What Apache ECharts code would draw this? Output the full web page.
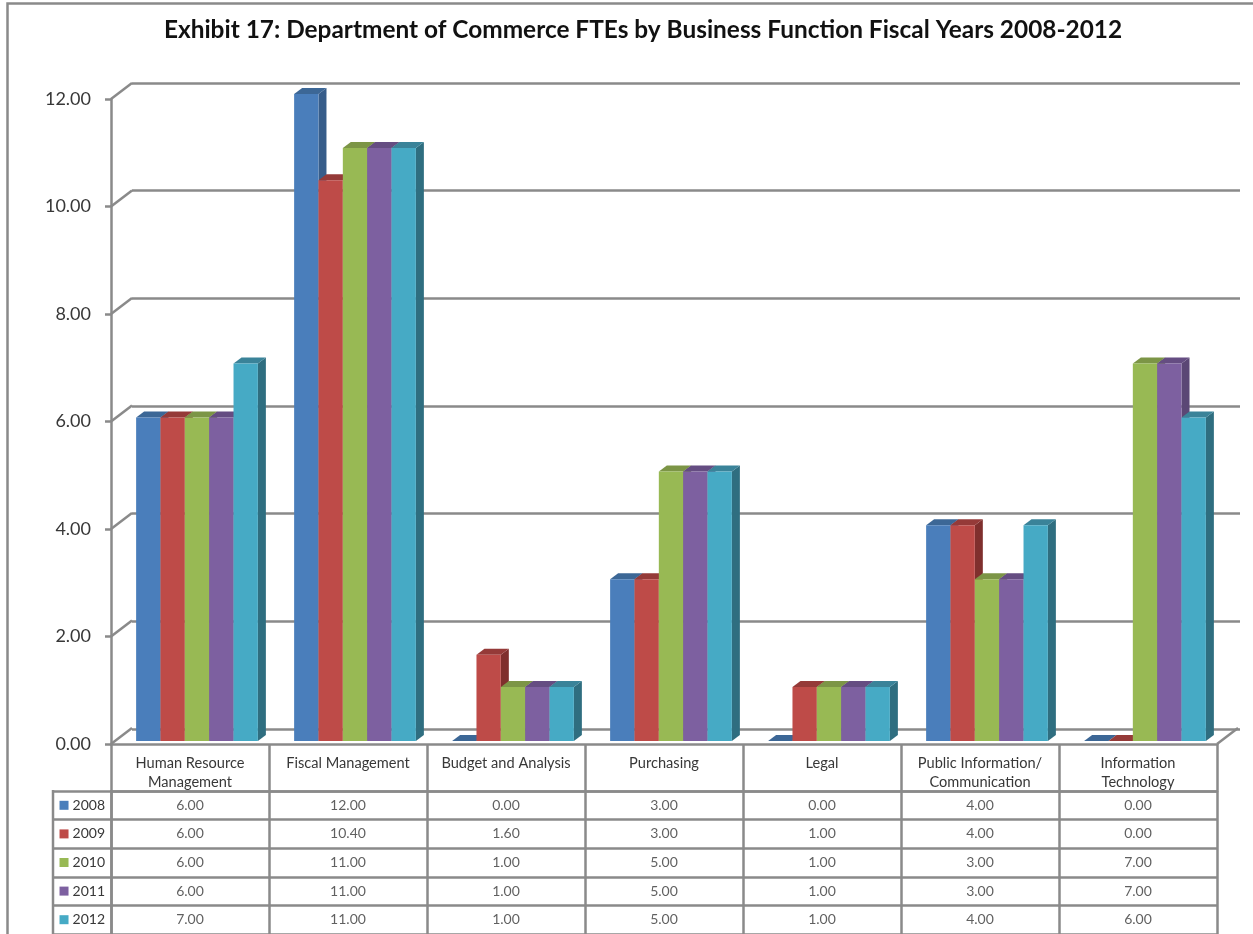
<!DOCTYPE html>
<html>
<head>
<meta charset="utf-8">
<style>
html, body { margin: 0; padding: 0; background: #fff; }
#chart { width: 1253px; height: 934px; filter: blur(0.35px); }
</style>
<script src="https://cdn.jsdelivr.net/npm/echarts@6/dist/echarts.min.js"></script>
</head>
<body>
<div id="chart"></div>
<script>
var categories = ['Human Resource\nManagement', 'Fiscal Management', 'Budget and Analysis', 'Purchasing', 'Legal', 'Public Information/\nCommunication', 'Information\nTechnology'];
var years = ['2008', '2009', '2010', '2011', '2012'];
var v2008 = [6, 12, 0, 3, 0, 4, 0];
var v2009 = [6, 10.4, 1.6, 3, 1, 4, 0];
var v2010 = [6, 11, 1, 5, 1, 3, 7];
var v2011 = [6, 11, 1, 5, 1, 3, 7];
var v2012 = [7, 11, 1, 5, 1, 4, 6];
var yTicks = [0, 2, 4, 6, 8, 10, 12];

var values = [v2008, v2009, v2010, v2011, v2012];
var frontColors = ['#4a7ebb', '#be4b48', '#98b954', '#7d60a0', '#46aac5'];
var topColors = ['#3c6796', '#953a38', '#7c9546', '#654d82', '#3a8399'];
var sideColors = ['#375d8a', '#7f2f2d', '#6f8640', '#5b4775', '#2f6e80'];

var FONT = 'Lato';
var LINE = '#8a8a8a';
var LINE_W = 2.5;
var TEXT = '#383838';
var BAR_W = 24.35;
var DEPTH_X = 8, DEPTH_Y = 6;
var WALL_X = 21, WALL_Y = 16;

// 三维柱子：正面 + 侧面 + 顶面
function renderBar(yearIndex) {
    return function (params, api) {
        var p = api.coord([api.value(0), api.value(1)]);
        var base = api.coord([api.value(0), 0]);
        var x = p[0] - (BAR_W * years.length) / 2 + yearIndex * BAR_W;
        var y = p[1];
        var side = [[x + BAR_W, y], [x + BAR_W + DEPTH_X, y - DEPTH_Y], [x + BAR_W + DEPTH_X, base[1] - DEPTH_Y], [x + BAR_W, base[1]]];
        var top = [[x, y], [x + BAR_W, y], [x + BAR_W + DEPTH_X, y - DEPTH_Y], [x + DEPTH_X, y - DEPTH_Y]];
        return {
            type: 'group',
            children: [
                { type: 'polygon', shape: { points: side }, style: { fill: sideColors[yearIndex] } },
                { type: 'polygon', shape: { points: top }, style: { fill: topColors[yearIndex] } },
                { type: 'rect', shape: { x: x, y: y, width: BAR_W, height: base[1] - y }, style: { fill: frontColors[yearIndex] } }
            ]
        };
    };
}

// 左墙斜线
function renderSlant(params, api) {
    var x = params.coordSys.x;
    var y = api.coord([0, api.value(0)])[1];
    return {
        type: 'line',
        shape: { x1: x, y1: y, x2: x + WALL_X, y2: y - WALL_Y },
        style: { stroke: LINE, lineWidth: LINE_W }
    };
}

// 底面右侧斜线
function renderFloorEnd(params, api) {
    var x = params.coordSys.x + params.coordSys.width;
    var y = api.coord([0, 0])[1];
    return {
        type: 'line',
        shape: { x1: x, y1: y, x2: x + WALL_X, y2: y - WALL_Y },
        style: { stroke: LINE, lineWidth: LINE_W }
    };
}

var series = [
    { type: 'custom', xAxisIndex: 0, yAxisIndex: 0, silent: true, z: 1, renderItem: renderSlant, data: yTicks.map(function (t) { return [t]; }) },
    { type: 'custom', xAxisIndex: 0, yAxisIndex: 0, silent: true, z: 1, renderItem: renderFloorEnd, data: [[0]] }
];
years.forEach(function (year, yi) {
    series.push({
        name: year,
        type: 'custom',
        xAxisIndex: 2,
        yAxisIndex: 2,
        z: 3,
        renderItem: renderBar(yi),
        data: values[yi].map(function (v, i) { return [i, v]; }),
        encode: { x: 0, y: 1 }
    });
    // 数据表的一行
    series.push({
        name: year + ' table',
        type: 'scatter',
        xAxisIndex: 3,
        yAxisIndex: 3,
        symbolSize: 1,
        silent: true,
        itemStyle: { color: 'transparent' },
        label: {
            show: true,
            position: 'inside',
            color: TEXT,
            fontFamily: FONT,
            fontSize: 14,
            formatter: function (p) { return p.value[2].toFixed(2); }
        },
        data: values[yi].map(function (v, i) { return [i, yi, v]; })
    });
});

var legendRich = { y: { color: TEXT, fontFamily: FONT, fontSize: 14, padding: [0, 0, 0, 4] } };
years.forEach(function (year, yi) {
    legendRich['k' + yi] = { width: 9, height: 9, backgroundColor: frontColors[yi] };
});

var chart = echarts.init(document.getElementById('chart'), null, { renderer: 'canvas' });
chart.setOption({
    animation: false,
    backgroundColor: '#fff',
    title: {
        text: 'Exhibit 17: Department of Commerce FTEs by Business Function Fiscal Years 2008-2012',
        left: 638,
        top: 13,
        textAlign: 'center',
        textStyle: { fontFamily: FONT, fontWeight: 'bold', fontSize: 24.4, color: '#111' }
    },
    grid: [
        { left: 111, width: 1106, top: 99, height: 645 },      // 正面（坐标轴）
        { left: 132, width: 1108, top: 83, height: 646 },      // 背面网格
        { left: 118, width: 1106, top: 94, height: 647 },      // 柱子
        { left: 111, width: 1106, top: 791, height: 144 }      // 数据表
    ],
    xAxis: [
        {
            gridIndex: 0,
            type: 'category',
            data: categories,
            axisLine: { lineStyle: { color: LINE, width: LINE_W } },
            axisTick: { show: true, interval: 0, length: 47, lineStyle: { color: LINE, width: LINE_W } },
            axisLabel: { interval: 0, margin: 10, color: TEXT, fontFamily: FONT, fontSize: 14.6, lineHeight: 19, verticalAlign: 'top' }
        },
        { gridIndex: 1, type: 'category', data: categories, show: false },
        { gridIndex: 2, type: 'category', data: categories, show: false },
        {
            gridIndex: 3,
            type: 'category',
            position: 'top',
            data: categories,
            axisLine: { lineStyle: { color: LINE, width: LINE_W } },
            axisTick: { show: false },
            axisLabel: { show: false },
            splitLine: { show: true, interval: 0, lineStyle: { color: LINE, width: LINE_W } }
        }
    ],
    yAxis: [
        {
            gridIndex: 0,
            type: 'value',
            min: 0,
            max: 12,
            interval: 2,
            axisLine: { show: true, lineStyle: { color: LINE, width: LINE_W } },
            axisTick: { show: true, length: 6, lineStyle: { color: LINE, width: LINE_W } },
            axisLabel: { margin: 20, color: TEXT, fontFamily: FONT, fontSize: 18, formatter: function (v) { return v.toFixed(2); } },
            splitLine: { show: false }
        },
        {
            gridIndex: 1,
            type: 'value',
            min: 0,
            max: 12,
            interval: 2,
            axisLine: { show: false },
            axisTick: { show: false },
            axisLabel: { show: false },
            splitLine: { show: true, lineStyle: { color: LINE, width: LINE_W } }
        },
        { gridIndex: 2, type: 'value', min: 0, max: 12, interval: 2, show: false, splitLine: { show: false } },
        {
            gridIndex: 3,
            type: 'category',
            inverse: true,
            data: years,
            axisLine: { show: true, lineStyle: { color: LINE, width: LINE_W } },
            axisTick: { show: true, interval: 0, length: 58, lineStyle: { color: LINE, width: LINE_W } },
            axisLabel: {
                interval: 0,
                margin: 6,
                formatter: function (v, i) { return '{k' + i + '|}{y|' + v + '}'; },
                rich: legendRich
            },
            splitLine: { show: true, interval: 0, lineStyle: { color: LINE, width: LINE_W } }
        }
    ],
    graphic: [
        { type: 'polyline', silent: true, shape: { points: [[7.5, 934], [7.5, 3.5], [1253, 3.5]] }, style: { stroke: LINE, lineWidth: LINE_W, fill: null } },
        { type: 'line', silent: true, shape: { x1: 53, y1: 790, x2: 53, y2: 934 }, style: { stroke: LINE, lineWidth: LINE_W } }
    ],
    series: series
});
</script>
</body>
</html>
